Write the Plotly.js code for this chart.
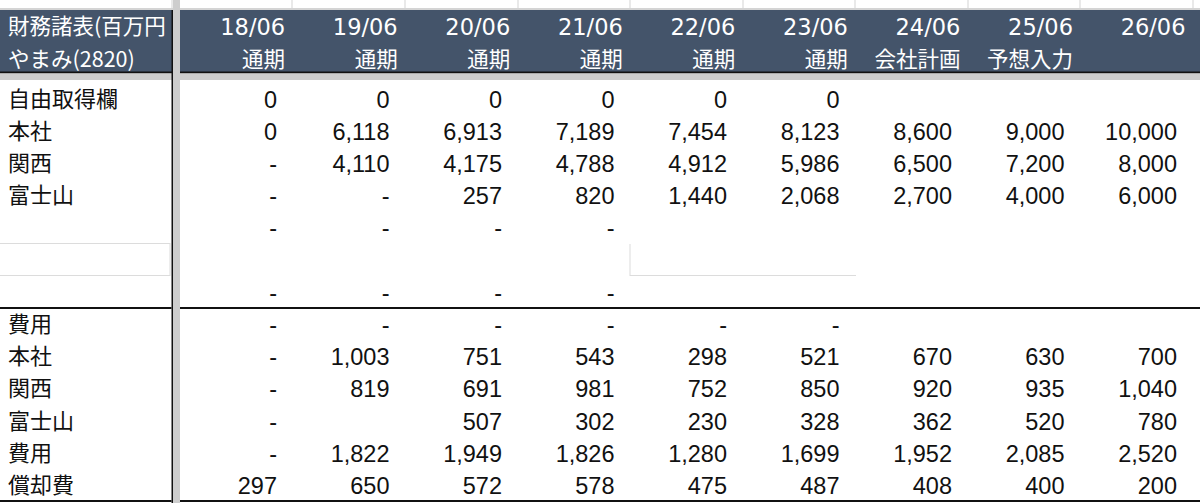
<!DOCTYPE html>
<html><head><meta charset="utf-8">
<script src="https://cdn.plot.ly/plotly-3.0.1.min.js"></script>
<style>html,body{margin:0;padding:0;background:#fff;}#chart{width:1200px;height:503px;}</style>
</head><body><div id="chart"></div>
<script>
// ---- data ----
const titleLine1 = '財務諸表(百万円';
const titleLine2 = 'やまみ(2820)';
const periods = ['18/06','19/06','20/06','21/06','22/06','23/06','24/06','25/06','26/06'];
const periodTypes = ['通期','通期','通期','通期','通期','通期','会社計画','予想入力',''];
const rowLabels = ['自由取得欄','本社','関西','富士山','','','','費用','本社','関西','富士山','費用','償却費'];
const freeAcq      = [0,0,0,0,0,0,null,null,null];
const salesHonsha  = [0,6118,6913,7189,7454,8123,8600,9000,10000];
const salesKansai  = ['-',4110,4175,4788,4912,5986,6500,7200,8000];
const salesFuji    = ['-','-',257,820,1440,2068,2700,4000,6000];
const spacerA      = ['-','-','-','-',null,null,null,null,null];
const spacerB      = [null,null,null,null,null,null,null,null,null];
const spacerC      = ['-','-','-','-',null,null,null,null,null];
const costHeader   = ['-','-','-','-','-','-',null,null,null];
const costHonsha   = ['-',1003,751,543,298,521,670,630,700];
const costKansai   = ['-',819,691,981,752,850,920,935,1040];
const costFuji     = ['-',null,507,302,230,328,362,520,780];
const costTotal    = ['-',1822,1949,1826,1280,1699,1952,2085,2520];
const amortization = [297,650,572,578,475,487,408,400,200];

const rows = [freeAcq,salesHonsha,salesKansai,salesFuji,spacerA,spacerB,spacerC,
              costHeader,costHonsha,costKansai,costFuji,costTotal,amortization];

function fmt(v){
  if(v===null||v===undefined) return '';
  if(typeof v==='number') return v.toLocaleString('en-US');
  return v;
}

// ---- styling ----
const W=1200, H=503;
const HEAD='#44546a', GRID='#d4d4d4', BAND='#cdcdcd', INK='#111111', BOX='#dcdcdc';
const CJK='Noto Sans CJK JP', NUM='Liberation Sans, Noto Sans CJK JP', HNUM='DejaVu Sans, Noto Sans CJK JP';
const transparent='rgba(0,0,0,0)';
const nP = periods.length;

// header table: row 1 = header, row 2 = cells
const hdrVals = [titleLine1, ''].concat(periods, ['']);
const subVals = [[titleLine2], ['']].concat(periodTypes.map(t=>[t]), [['']]);
const hdrWidths = [173, 7.5].concat(Array(nP).fill(112.5), [6.5]);
const hdrAlign = ['left','left'].concat(Array(nP).fill('right'), ['right']);

const headerTable = {
  type:'table',
  domain:{x:[0,1], y:[1-76/H, 1-10.3/H]},
  columnwidth: hdrWidths,
  header:{
    values: hdrVals,
    height: 32.5,
    align: hdrAlign,
    fill:{color:transparent},
    line:{width:0,color:transparent},
    font:{family:[CJK,CJK].concat(Array(nP+1).fill(HNUM)), size:[21.5,21.5].concat(Array(nP+1).fill(22.5)), color:'#ffffff'}
  },
  cells:{
    values: subVals,
    height: 32.5,
    align: hdrAlign,
    fill:{color:transparent},
    line:{width:0,color:transparent},
    font:{family:CJK, size:21.5, color:'#ffffff'}
  }
};

// body table
const bodyCols = [rowLabels];
for(let j=0;j<nP;j++) bodyCols.push(rows.map(r=>fmt(r[j])));
bodyCols.push(rows.map(()=>''));
const bodyWidths = [173, 112].concat(Array(nP-1).fill(112.5), [15]);
const bodyAlign = ['left'].concat(Array(nP+1).fill('right'));

const bodyTable = {
  type:'table',
  domain:{x:[0,1], y:[0, 1-81/H]},
  columnwidth: bodyWidths,
  header:{values: bodyCols.map(()=>''), height:1, fill:{color:transparent}, line:{width:0,color:transparent},
          font:{size:1, color:transparent}},
  cells:{
    values: bodyCols,
    height: 32.2,
    align: bodyAlign,
    fill:{color:transparent},
    line:{width:0,color:transparent},
    font:{family:[CJK].concat(Array(nP+1).fill(NUM)), size:[22].concat(Array(nP+1).fill(23.5)), color:'#111111'}
  }
};

function rect(x0,y0,x1,y1,color){
  return {type:'rect',xref:'paper',yref:'paper',x0:x0/W,x1:x1/W,y0:1-y1/H,y1:1-y0/H,
          fillcolor:color,line:{width:0},layer:'below'};
}
const shapes = [];
// spreadsheet row above the header
shapes.push(rect(0,8,W,10,GRID));
[172,292,405,518,630,743,855,968,1080,1193].forEach(x=>shapes.push(rect(x-0.5,0,x+0.5,8,GRID)));
// header backgrounds
shapes.push(rect(0,10,172,72,HEAD));
shapes.push(rect(180,10,W,72,HEAD));
shapes.push(rect(0,71.5,172,73.5,INK));
shapes.push(rect(180,71.5,W,73.5,INK));
// frozen-pane bands
shapes.push(rect(0,73.5,W,80,BAND));
shapes.push(rect(173,0,180,H,BAND));
// label column border
shapes.push(rect(171.5,10,173,H,INK));
// section and bottom rules
shapes.push(rect(0,307,171.5,309,INK));
shapes.push(rect(180,307,W,309,INK));
shapes.push(rect(0,500,171.5,502,INK));
shapes.push(rect(180,500,W,502,INK));
// light boxes in the spacer row
shapes.push(rect(0,243,170,244,BOX));
shapes.push(rect(0,275,170,276,BOX));
shapes.push(rect(169.5,243,170.5,276,BOX));
shapes.push(rect(629.5,244,630.5,276,BOX));
shapes.push(rect(630,275,856,276,BOX));

const layout = {
  width:W, height:H, autosize:false,
  margin:{l:0,r:0,t:0,b:0,pad:0},
  paper_bgcolor:'#ffffff',
  showlegend:false,
  shapes: shapes
};
Plotly.newPlot('chart',[headerTable, bodyTable],layout,{displayModeBar:false, staticPlot:true});
</script>
</body></html>
